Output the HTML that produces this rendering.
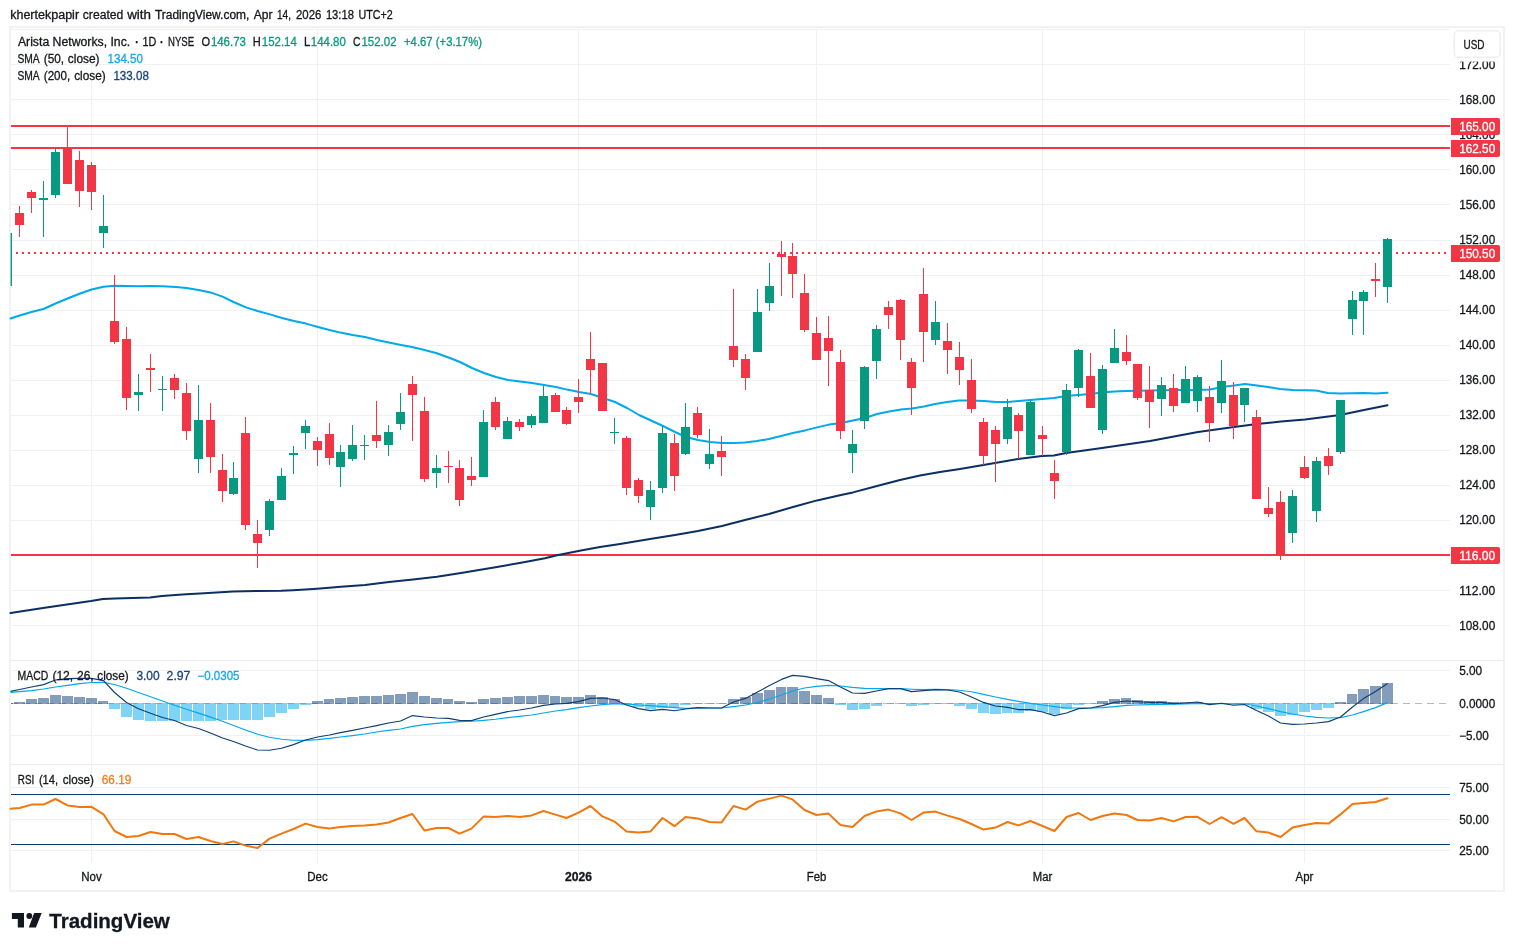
<!DOCTYPE html>
<html lang="en"><head><meta charset="utf-8"><title>Arista Networks, Inc. chart</title>
<style>html,body{margin:0;padding:0;background:#fff;overflow:hidden}svg{display:block}text{stroke-width:.3px}</style></head>
<body>
<svg width="1514" height="951" viewBox="0 0 1514 951" font-family='"Liberation Sans", "Trebuchet MS", Arial, sans-serif' font-size="12" fill="#15171c">
<rect x="0" y="0" width="1514" height="951" fill="#ffffff"/>
<rect x="10" y="27" width="1494" height="864" fill="none" stroke="#f2f2f2" stroke-width="2"/>
<g fill="#f1f1f1" shape-rendering="crispEdges">
<rect x="11" y="29" width="1439" height="1"/>
<rect x="11" y="64" width="1439" height="1"/>
<rect x="11" y="99" width="1439" height="1"/>
<rect x="11" y="134" width="1439" height="1"/>
<rect x="11" y="169" width="1439" height="1"/>
<rect x="11" y="204" width="1439" height="1"/>
<rect x="11" y="240" width="1439" height="1"/>
<rect x="11" y="275" width="1439" height="1"/>
<rect x="11" y="310" width="1439" height="1"/>
<rect x="11" y="345" width="1439" height="1"/>
<rect x="11" y="380" width="1439" height="1"/>
<rect x="11" y="415" width="1439" height="1"/>
<rect x="11" y="450" width="1439" height="1"/>
<rect x="11" y="485" width="1439" height="1"/>
<rect x="11" y="520" width="1439" height="1"/>
<rect x="11" y="555" width="1439" height="1"/>
<rect x="11" y="590" width="1439" height="1"/>
<rect x="11" y="625" width="1439" height="1"/>
<rect x="11" y="670" width="1439" height="1"/>
<rect x="11" y="735" width="1439" height="1"/>
<rect x="11" y="787" width="1439" height="1"/>
<rect x="11" y="819" width="1439" height="1"/>
<rect x="11" y="850" width="1439" height="1"/>
<rect x="11" y="660" width="1492" height="1" fill="#ececec"/>
<rect x="11" y="764" width="1492" height="1" fill="#ececec"/>
<rect x="91" y="30" width="1" height="833"/>
<rect x="317" y="30" width="1" height="833"/>
<rect x="578" y="30" width="1" height="833"/>
<rect x="816" y="30" width="1" height="833"/>
<rect x="1042" y="30" width="1" height="833"/>
<rect x="1304" y="30" width="1" height="833"/>
</g>
<g fill="#f23645" shape-rendering="crispEdges">
<rect x="11" y="125" width="1439" height="2"/>
<rect x="11" y="147" width="1439" height="2"/>
<rect x="11" y="554" width="1439" height="2"/>
</g>
<line x1="16" y1="253" x2="1447" y2="253" stroke="#f23645" stroke-width="2" stroke-dasharray="2 4" shape-rendering="crispEdges"/>
<path d="M10.5 613.0 L43.0 608.0 L67.0 604.4 L91.0 601.0 L103.0 599.0 L115.0 598.4 L150.0 597.6 L162.0 596.0 L186.0 594.2 L200.0 593.4 L233.0 591.4 L257.0 591.0 L281.0 590.8 L293.0 590.2 L317.0 588.7 L341.0 586.8 L365.0 585.0 L389.0 582.0 L413.0 579.4 L437.0 576.8 L461.0 573.0 L473.0 571.0 L497.0 567.0 L521.0 562.8 L545.0 558.3 L557.0 555.3 L581.0 550.6 L600.0 547.0 L620.0 544.0 L650.0 539.0 L675.0 535.0 L698.0 531.0 L722.0 526.0 L745.0 520.0 L769.0 514.0 L793.0 507.0 L817.0 500.4 L841.0 495.0 L853.0 492.4 L877.0 486.0 L900.0 480.0 L920.0 475.6 L940.0 472.0 L960.0 469.0 L995.0 463.0 L1018.0 459.0 L1042.0 456.0 L1054.0 455.4 L1066.0 453.0 L1102.0 448.0 L1150.0 441.0 L1198.0 432.0 L1234.0 427.0 L1257.0 424.0 L1281.0 421.5 L1305.0 419.4 L1340.0 415.0 L1364.0 410.0 L1387.5 405.2" fill="none" stroke="#0b2f63" stroke-width="2" stroke-linejoin="round" stroke-linecap="round"/>
<path d="M10.5 318.5 L19.5 315.5 L31.5 312.0 L43.5 309.0 L55.5 303.5 L67.5 298.5 L79.5 293.8 L91.5 289.5 L103.5 286.8 L114.5 285.8 L126.5 286.0 L138.5 286.3 L150.5 286.0 L162.5 286.3 L176.0 287.0 L186.5 288.0 L198.5 290.0 L210.5 292.4 L222.5 296.6 L233.5 302.0 L246.0 307.4 L257.5 311.0 L270.0 314.4 L282.0 318.0 L294.0 321.0 L306.0 323.6 L318.0 327.0 L329.5 330.0 L340.5 332.6 L352.5 335.0 L365.0 337.0 L377.0 340.0 L390.0 342.8 L401.0 345.0 L412.0 347.0 L424.5 350.0 L436.0 353.0 L448.5 357.5 L460.0 362.0 L472.0 368.0 L484.0 373.0 L496.0 377.0 L508.0 380.0 L520.0 381.4 L532.0 383.0 L544.0 385.0 L556.0 387.0 L567.0 389.6 L579.0 392.0 L591.0 394.0 L603.0 398.0 L615.0 402.0 L627.0 408.0 L639.0 415.0 L651.0 420.5 L663.0 426.0 L675.0 432.0 L686.0 437.0 L698.0 440.0 L710.0 442.0 L722.0 443.0 L734.0 443.0 L745.0 442.4 L757.0 441.0 L769.0 439.0 L781.0 436.0 L793.0 433.0 L805.0 430.4 L817.0 427.4 L829.0 424.6 L841.0 423.0 L853.0 420.5 L865.0 418.0 L877.0 414.0 L889.0 411.4 L901.0 409.6 L912.0 408.4 L924.0 406.5 L935.0 404.0 L947.0 402.0 L959.0 400.6 L971.0 400.4 L984.0 401.0 L996.0 402.0 L1008.0 402.0 L1019.0 401.0 L1030.0 400.0 L1042.0 399.0 L1054.0 398.0 L1066.0 396.0 L1078.0 395.0 L1090.0 394.0 L1102.0 392.6 L1114.0 391.6 L1126.0 391.0 L1138.0 390.8 L1150.0 390.6 L1162.0 390.3 L1174.0 390.0 L1186.0 390.0 L1198.0 390.0 L1210.0 389.6 L1222.0 387.0 L1234.0 385.6 L1245.0 384.0 L1257.0 385.6 L1268.0 387.0 L1280.0 389.0 L1293.0 390.0 L1305.0 390.3 L1316.0 390.6 L1328.0 393.0 L1340.0 393.4 L1352.0 393.2 L1364.0 393.0 L1376.0 393.6 L1387.5 392.8" fill="none" stroke="#00a8ec" stroke-width="2" stroke-linejoin="round" stroke-linecap="round"/>
<g shape-rendering="crispEdges">
<rect x="10.6" y="233" width="1.4" height="53" fill="#089981" shape-rendering="auto"/>
<rect x="19" y="206.4" width="1" height="30.6" fill="#f23645"/>
<rect x="15" y="213.2" width="9" height="11.8" fill="#f23645"/>
<rect x="31" y="190.0" width="1" height="23.0" fill="#f23645"/>
<rect x="27" y="192.0" width="9" height="6.0" fill="#f23645"/>
<rect x="43" y="181.0" width="1" height="56.0" fill="#089981"/>
<rect x="39" y="198.0" width="9" height="2.0" fill="#089981"/>
<rect x="55" y="147.6" width="1" height="50.4" fill="#089981"/>
<rect x="51" y="152.0" width="9" height="43.0" fill="#089981"/>
<rect x="67" y="127.0" width="1" height="57.0" fill="#f23645"/>
<rect x="63" y="148.0" width="9" height="36.0" fill="#f23645"/>
<rect x="79" y="151.0" width="1" height="56.0" fill="#f23645"/>
<rect x="75" y="160.0" width="9" height="31.0" fill="#f23645"/>
<rect x="91" y="162.0" width="1" height="48.0" fill="#f23645"/>
<rect x="87" y="165.0" width="9" height="27.0" fill="#f23645"/>
<rect x="103" y="195.0" width="1" height="53.0" fill="#089981"/>
<rect x="99" y="226.0" width="9" height="7.0" fill="#089981"/>
<rect x="114" y="275.0" width="1" height="69.0" fill="#f23645"/>
<rect x="110" y="321.0" width="9" height="21.0" fill="#f23645"/>
<rect x="126" y="327.0" width="1" height="83.0" fill="#f23645"/>
<rect x="122" y="339.0" width="9" height="59.0" fill="#f23645"/>
<rect x="138" y="374.0" width="1" height="37.0" fill="#089981"/>
<rect x="134" y="392.0" width="9" height="3.0" fill="#089981"/>
<rect x="150" y="354.0" width="1" height="38.0" fill="#f23645"/>
<rect x="146" y="367.5" width="9" height="2.5" fill="#f23645"/>
<rect x="162" y="376.0" width="1" height="35.0" fill="#089981"/>
<rect x="158" y="389.0" width="9" height="1.0" fill="#089981"/>
<rect x="174" y="374.0" width="1" height="25.0" fill="#f23645"/>
<rect x="170" y="378.0" width="9" height="12.0" fill="#f23645"/>
<rect x="186" y="383.0" width="1" height="57.0" fill="#f23645"/>
<rect x="182" y="393.0" width="9" height="38.0" fill="#f23645"/>
<rect x="198" y="385.0" width="1" height="88.0" fill="#089981"/>
<rect x="194" y="420.0" width="9" height="39.0" fill="#089981"/>
<rect x="210" y="403.0" width="1" height="70.0" fill="#f23645"/>
<rect x="206" y="420.0" width="9" height="37.0" fill="#f23645"/>
<rect x="222" y="454.0" width="1" height="48.0" fill="#f23645"/>
<rect x="218" y="470.0" width="9" height="21.0" fill="#f23645"/>
<rect x="233" y="462.0" width="1" height="33.0" fill="#089981"/>
<rect x="229" y="478.0" width="9" height="16.0" fill="#089981"/>
<rect x="245" y="417.0" width="1" height="113.0" fill="#f23645"/>
<rect x="241" y="433.0" width="9" height="92.0" fill="#f23645"/>
<rect x="257" y="520.0" width="1" height="48.0" fill="#f23645"/>
<rect x="253" y="534.0" width="9" height="9.0" fill="#f23645"/>
<rect x="269" y="499.0" width="1" height="37.0" fill="#089981"/>
<rect x="265" y="501.0" width="9" height="29.0" fill="#089981"/>
<rect x="281" y="468.0" width="1" height="32.0" fill="#089981"/>
<rect x="277" y="476.0" width="9" height="24.0" fill="#089981"/>
<rect x="293" y="446.0" width="1" height="28.0" fill="#089981"/>
<rect x="289" y="453.0" width="9" height="2.0" fill="#089981"/>
<rect x="305" y="420.0" width="1" height="29.0" fill="#089981"/>
<rect x="301" y="426.0" width="9" height="7.0" fill="#089981"/>
<rect x="317" y="437.0" width="1" height="29.0" fill="#f23645"/>
<rect x="313" y="441.0" width="9" height="9.0" fill="#f23645"/>
<rect x="329" y="423.0" width="1" height="42.0" fill="#f23645"/>
<rect x="325" y="434.0" width="9" height="24.0" fill="#f23645"/>
<rect x="340" y="445.0" width="1" height="42.0" fill="#089981"/>
<rect x="336" y="452.0" width="9" height="15.0" fill="#089981"/>
<rect x="352" y="425.0" width="1" height="36.0" fill="#089981"/>
<rect x="348" y="445.0" width="9" height="14.0" fill="#089981"/>
<rect x="364" y="435.0" width="1" height="25.0" fill="#089981"/>
<rect x="360" y="445.0" width="9" height="1.0" fill="#089981"/>
<rect x="376" y="401.0" width="1" height="47.0" fill="#f23645"/>
<rect x="372" y="435.0" width="9" height="6.0" fill="#f23645"/>
<rect x="388" y="425.0" width="1" height="31.0" fill="#089981"/>
<rect x="384" y="432.0" width="9" height="13.0" fill="#089981"/>
<rect x="400" y="393.0" width="1" height="37.0" fill="#089981"/>
<rect x="396" y="412.0" width="9" height="12.0" fill="#089981"/>
<rect x="412" y="376.0" width="1" height="65.0" fill="#f23645"/>
<rect x="408" y="384.0" width="9" height="11.0" fill="#f23645"/>
<rect x="424" y="397.0" width="1" height="85.0" fill="#f23645"/>
<rect x="420" y="411.0" width="9" height="68.0" fill="#f23645"/>
<rect x="436" y="455.0" width="1" height="33.0" fill="#089981"/>
<rect x="432" y="468.0" width="9" height="5.0" fill="#089981"/>
<rect x="448" y="451.0" width="1" height="32.0" fill="#f23645"/>
<rect x="444" y="466.0" width="9" height="1.0" fill="#f23645"/>
<rect x="459" y="460.0" width="1" height="46.0" fill="#f23645"/>
<rect x="455" y="468.0" width="9" height="32.0" fill="#f23645"/>
<rect x="471" y="457.0" width="1" height="29.0" fill="#f23645"/>
<rect x="467" y="476.0" width="9" height="4.0" fill="#f23645"/>
<rect x="483" y="410.0" width="1" height="67.0" fill="#089981"/>
<rect x="479" y="422.0" width="9" height="55.0" fill="#089981"/>
<rect x="495" y="397.0" width="1" height="33.0" fill="#f23645"/>
<rect x="491" y="402.0" width="9" height="25.0" fill="#f23645"/>
<rect x="507" y="417.0" width="1" height="22.0" fill="#089981"/>
<rect x="503" y="421.0" width="9" height="18.0" fill="#089981"/>
<rect x="519" y="419.0" width="1" height="12.0" fill="#f23645"/>
<rect x="515" y="422.0" width="9" height="5.0" fill="#f23645"/>
<rect x="531" y="414.0" width="1" height="14.0" fill="#089981"/>
<rect x="527" y="416.0" width="9" height="9.0" fill="#089981"/>
<rect x="543" y="386.0" width="1" height="37.0" fill="#089981"/>
<rect x="539" y="396.0" width="9" height="27.0" fill="#089981"/>
<rect x="555" y="393.0" width="1" height="19.0" fill="#f23645"/>
<rect x="551" y="395.0" width="9" height="17.0" fill="#f23645"/>
<rect x="566" y="407.0" width="1" height="18.0" fill="#f23645"/>
<rect x="562" y="410.0" width="9" height="14.0" fill="#f23645"/>
<rect x="578" y="379.0" width="1" height="34.0" fill="#f23645"/>
<rect x="574" y="397.0" width="9" height="5.0" fill="#f23645"/>
<rect x="590" y="332.0" width="1" height="61.0" fill="#f23645"/>
<rect x="586" y="359.0" width="9" height="11.0" fill="#f23645"/>
<rect x="602" y="363.0" width="1" height="48.0" fill="#f23645"/>
<rect x="598" y="363.0" width="9" height="48.0" fill="#f23645"/>
<rect x="614" y="418.0" width="1" height="26.0" fill="#089981"/>
<rect x="610" y="432.0" width="9" height="1.0" fill="#089981"/>
<rect x="626" y="436.0" width="1" height="59.0" fill="#f23645"/>
<rect x="622" y="438.0" width="9" height="50.0" fill="#f23645"/>
<rect x="638" y="478.0" width="1" height="25.0" fill="#f23645"/>
<rect x="634" y="480.0" width="9" height="16.0" fill="#f23645"/>
<rect x="650" y="481.0" width="1" height="39.0" fill="#089981"/>
<rect x="646" y="490.0" width="9" height="17.0" fill="#089981"/>
<rect x="662" y="426.0" width="1" height="67.0" fill="#089981"/>
<rect x="658" y="433.0" width="9" height="55.0" fill="#089981"/>
<rect x="674" y="434.0" width="1" height="57.0" fill="#f23645"/>
<rect x="670" y="443.0" width="9" height="33.0" fill="#f23645"/>
<rect x="685" y="403.0" width="1" height="52.0" fill="#089981"/>
<rect x="681" y="427.0" width="9" height="27.0" fill="#089981"/>
<rect x="697" y="407.0" width="1" height="31.0" fill="#f23645"/>
<rect x="693" y="413.0" width="9" height="22.0" fill="#f23645"/>
<rect x="709" y="429.0" width="1" height="40.0" fill="#089981"/>
<rect x="705" y="454.0" width="9" height="10.0" fill="#089981"/>
<rect x="721" y="436.0" width="1" height="40.0" fill="#f23645"/>
<rect x="717" y="451.0" width="9" height="6.0" fill="#f23645"/>
<rect x="733" y="289.0" width="1" height="78.0" fill="#f23645"/>
<rect x="729" y="346.0" width="9" height="14.0" fill="#f23645"/>
<rect x="745" y="354.0" width="1" height="36.0" fill="#f23645"/>
<rect x="741" y="359.0" width="9" height="19.0" fill="#f23645"/>
<rect x="757" y="289.0" width="1" height="63.0" fill="#089981"/>
<rect x="753" y="312.0" width="9" height="40.0" fill="#089981"/>
<rect x="769" y="263.0" width="1" height="48.0" fill="#089981"/>
<rect x="765" y="286.0" width="9" height="17.0" fill="#089981"/>
<rect x="781" y="241.0" width="1" height="55.0" fill="#f23645"/>
<rect x="777" y="254.0" width="9" height="2.5" fill="#f23645"/>
<rect x="792" y="243.0" width="1" height="55.0" fill="#f23645"/>
<rect x="788" y="256.0" width="9" height="18.0" fill="#f23645"/>
<rect x="804" y="274.0" width="1" height="58.0" fill="#f23645"/>
<rect x="800" y="293.0" width="9" height="37.0" fill="#f23645"/>
<rect x="816" y="317.0" width="1" height="43.0" fill="#f23645"/>
<rect x="812" y="333.0" width="9" height="27.0" fill="#f23645"/>
<rect x="828" y="316.0" width="1" height="70.0" fill="#f23645"/>
<rect x="824" y="338.0" width="9" height="13.0" fill="#f23645"/>
<rect x="840" y="350.0" width="1" height="89.0" fill="#f23645"/>
<rect x="836" y="362.0" width="9" height="69.0" fill="#f23645"/>
<rect x="852" y="430.0" width="1" height="43.0" fill="#089981"/>
<rect x="848" y="444.0" width="9" height="9.0" fill="#089981"/>
<rect x="864" y="366.0" width="1" height="63.0" fill="#089981"/>
<rect x="860" y="367.0" width="9" height="54.0" fill="#089981"/>
<rect x="876" y="325.0" width="1" height="54.0" fill="#089981"/>
<rect x="872" y="329.0" width="9" height="32.0" fill="#089981"/>
<rect x="888" y="301.0" width="1" height="28.0" fill="#f23645"/>
<rect x="884" y="307.0" width="9" height="8.0" fill="#f23645"/>
<rect x="900" y="299.0" width="1" height="61.0" fill="#f23645"/>
<rect x="896" y="300.0" width="9" height="40.0" fill="#f23645"/>
<rect x="911" y="358.0" width="1" height="57.0" fill="#f23645"/>
<rect x="907" y="362.0" width="9" height="26.0" fill="#f23645"/>
<rect x="923" y="268.0" width="1" height="94.0" fill="#f23645"/>
<rect x="919" y="294.0" width="9" height="38.0" fill="#f23645"/>
<rect x="935" y="301.0" width="1" height="44.0" fill="#089981"/>
<rect x="931" y="322.0" width="9" height="18.0" fill="#089981"/>
<rect x="947" y="323.0" width="1" height="51.0" fill="#f23645"/>
<rect x="943" y="341.0" width="9" height="9.0" fill="#f23645"/>
<rect x="959" y="342.0" width="1" height="43.0" fill="#f23645"/>
<rect x="955" y="357.0" width="9" height="13.0" fill="#f23645"/>
<rect x="971" y="359.0" width="1" height="54.0" fill="#f23645"/>
<rect x="967" y="380.0" width="9" height="29.0" fill="#f23645"/>
<rect x="983" y="418.0" width="1" height="47.0" fill="#f23645"/>
<rect x="979" y="422.0" width="9" height="34.0" fill="#f23645"/>
<rect x="995" y="426.0" width="1" height="56.0" fill="#f23645"/>
<rect x="991" y="430.0" width="9" height="14.0" fill="#f23645"/>
<rect x="1007" y="399.0" width="1" height="45.0" fill="#089981"/>
<rect x="1003" y="407.0" width="9" height="32.0" fill="#089981"/>
<rect x="1018" y="413.0" width="1" height="46.0" fill="#f23645"/>
<rect x="1014" y="415.0" width="9" height="16.0" fill="#f23645"/>
<rect x="1030" y="401.0" width="1" height="54.0" fill="#089981"/>
<rect x="1026" y="402.0" width="9" height="53.0" fill="#089981"/>
<rect x="1042" y="426.0" width="1" height="30.0" fill="#f23645"/>
<rect x="1038" y="435.0" width="9" height="4.0" fill="#f23645"/>
<rect x="1054" y="460.0" width="1" height="39.0" fill="#f23645"/>
<rect x="1050" y="473.0" width="9" height="8.0" fill="#f23645"/>
<rect x="1066" y="384.0" width="1" height="71.0" fill="#089981"/>
<rect x="1062" y="390.0" width="9" height="62.0" fill="#089981"/>
<rect x="1078" y="349.0" width="1" height="48.0" fill="#089981"/>
<rect x="1074" y="350.0" width="9" height="38.0" fill="#089981"/>
<rect x="1090" y="353.0" width="1" height="55.0" fill="#f23645"/>
<rect x="1086" y="376.0" width="9" height="32.0" fill="#f23645"/>
<rect x="1102" y="365.0" width="1" height="69.0" fill="#089981"/>
<rect x="1098" y="369.0" width="9" height="61.0" fill="#089981"/>
<rect x="1114" y="329.0" width="1" height="34.0" fill="#089981"/>
<rect x="1110" y="348.0" width="9" height="15.0" fill="#089981"/>
<rect x="1126" y="335.0" width="1" height="30.0" fill="#f23645"/>
<rect x="1122" y="352.0" width="9" height="9.0" fill="#f23645"/>
<rect x="1137" y="364.0" width="1" height="36.0" fill="#f23645"/>
<rect x="1133" y="364.0" width="9" height="34.0" fill="#f23645"/>
<rect x="1149" y="366.0" width="1" height="62.0" fill="#f23645"/>
<rect x="1145" y="390.0" width="9" height="12.0" fill="#f23645"/>
<rect x="1161" y="377.0" width="1" height="39.0" fill="#089981"/>
<rect x="1157" y="385.0" width="9" height="14.0" fill="#089981"/>
<rect x="1173" y="374.0" width="1" height="38.0" fill="#f23645"/>
<rect x="1169" y="388.0" width="9" height="18.0" fill="#f23645"/>
<rect x="1185" y="366.0" width="1" height="37.0" fill="#089981"/>
<rect x="1181" y="379.0" width="9" height="24.0" fill="#089981"/>
<rect x="1197" y="375.0" width="1" height="37.0" fill="#089981"/>
<rect x="1193" y="377.0" width="9" height="24.0" fill="#089981"/>
<rect x="1209" y="386.0" width="1" height="56.0" fill="#f23645"/>
<rect x="1205" y="397.0" width="9" height="26.0" fill="#f23645"/>
<rect x="1221" y="360.0" width="1" height="53.0" fill="#089981"/>
<rect x="1217" y="381.0" width="9" height="22.0" fill="#089981"/>
<rect x="1233" y="382.0" width="1" height="57.0" fill="#f23645"/>
<rect x="1229" y="395.0" width="9" height="31.0" fill="#f23645"/>
<rect x="1244" y="388.0" width="1" height="34.0" fill="#089981"/>
<rect x="1240" y="388.0" width="9" height="17.0" fill="#089981"/>
<rect x="1256" y="410.0" width="1" height="89.0" fill="#f23645"/>
<rect x="1252" y="417.0" width="9" height="82.0" fill="#f23645"/>
<rect x="1268" y="487.0" width="1" height="30.0" fill="#f23645"/>
<rect x="1264" y="508.0" width="9" height="6.0" fill="#f23645"/>
<rect x="1280" y="491.0" width="1" height="69.0" fill="#f23645"/>
<rect x="1276" y="502.0" width="9" height="53.0" fill="#f23645"/>
<rect x="1292" y="490.0" width="1" height="53.0" fill="#089981"/>
<rect x="1288" y="496.0" width="9" height="37.0" fill="#089981"/>
<rect x="1304" y="456.0" width="1" height="23.0" fill="#f23645"/>
<rect x="1300" y="467.0" width="9" height="11.0" fill="#f23645"/>
<rect x="1316" y="457.0" width="1" height="65.0" fill="#089981"/>
<rect x="1312" y="461.0" width="9" height="50.0" fill="#089981"/>
<rect x="1328" y="448.0" width="1" height="27.0" fill="#f23645"/>
<rect x="1324" y="456.0" width="9" height="10.0" fill="#f23645"/>
<rect x="1340" y="400.0" width="1" height="54.0" fill="#089981"/>
<rect x="1336" y="400.0" width="9" height="52.0" fill="#089981"/>
<rect x="1352" y="291.0" width="1" height="44.0" fill="#089981"/>
<rect x="1348" y="300.0" width="9" height="19.0" fill="#089981"/>
<rect x="1363" y="290.0" width="1" height="45.0" fill="#089981"/>
<rect x="1359" y="292.0" width="9" height="9.0" fill="#089981"/>
<rect x="1375" y="263.0" width="1" height="34.0" fill="#f23645"/>
<rect x="1371" y="279.0" width="9" height="1.5" fill="#f23645"/>
<rect x="1387" y="238.0" width="1" height="65.0" fill="#089981"/>
<rect x="1383" y="239.0" width="9" height="48.0" fill="#089981"/>
</g>
<line x1="11" y1="703.5" x2="1450" y2="703.5" stroke="#a8a8a8" stroke-width="1" stroke-dasharray="7 5" opacity="0.8"/>
<g shape-rendering="crispEdges">
<rect x="11" y="703.0" width="2" height="1.0" fill="rgba(10,60,120,0.5)"/>
<rect x="14" y="702.0" width="11" height="2.0" fill="rgba(10,60,120,0.5)"/>
<rect x="26" y="699.0" width="11" height="5.0" fill="rgba(10,60,120,0.5)"/>
<rect x="38" y="698.0" width="11" height="6.0" fill="rgba(10,60,120,0.5)"/>
<rect x="50" y="695.0" width="11" height="9.0" fill="rgba(10,60,120,0.5)"/>
<rect x="62" y="696.0" width="11" height="8.0" fill="rgba(10,60,120,0.5)"/>
<rect x="74" y="697.0" width="11" height="7.0" fill="rgba(10,60,120,0.5)"/>
<rect x="86" y="698.0" width="11" height="6.0" fill="rgba(10,60,120,0.5)"/>
<rect x="98" y="701.0" width="10" height="3.0" fill="rgba(10,60,120,0.5)"/>
<rect x="109" y="703.0" width="11" height="6.0" fill="rgba(0,168,240,0.5)"/>
<rect x="121" y="703.0" width="11" height="14.0" fill="rgba(0,168,240,0.5)"/>
<rect x="133" y="703.0" width="11" height="17.0" fill="rgba(0,168,240,0.5)"/>
<rect x="145" y="703.0" width="11" height="18.0" fill="rgba(0,168,240,0.5)"/>
<rect x="157" y="703.0" width="11" height="18.0" fill="rgba(0,168,240,0.5)"/>
<rect x="169" y="703.0" width="11" height="18.0" fill="rgba(0,168,240,0.5)"/>
<rect x="181" y="703.0" width="11" height="18.0" fill="rgba(0,168,240,0.5)"/>
<rect x="193" y="703.0" width="11" height="17.6" fill="rgba(0,168,240,0.5)"/>
<rect x="205" y="703.0" width="11" height="17.6" fill="rgba(0,168,240,0.5)"/>
<rect x="217" y="703.0" width="10" height="17.0" fill="rgba(0,168,240,0.5)"/>
<rect x="228" y="703.0" width="11" height="17.0" fill="rgba(0,168,240,0.5)"/>
<rect x="240" y="703.0" width="11" height="17.0" fill="rgba(0,168,240,0.5)"/>
<rect x="252" y="703.0" width="11" height="17.0" fill="rgba(0,168,240,0.5)"/>
<rect x="264" y="703.0" width="11" height="14.0" fill="rgba(0,168,240,0.5)"/>
<rect x="276" y="703.0" width="11" height="10.0" fill="rgba(0,168,240,0.5)"/>
<rect x="288" y="703.0" width="11" height="6.0" fill="rgba(0,168,240,0.5)"/>
<rect x="300" y="703.0" width="11" height="1.6" fill="rgba(0,168,240,0.5)"/>
<rect x="312" y="701.0" width="11" height="3.0" fill="rgba(10,60,120,0.5)"/>
<rect x="324" y="699.0" width="10" height="5.0" fill="rgba(10,60,120,0.5)"/>
<rect x="335" y="698.0" width="11" height="6.0" fill="rgba(10,60,120,0.5)"/>
<rect x="347" y="697.0" width="11" height="7.0" fill="rgba(10,60,120,0.5)"/>
<rect x="359" y="696.0" width="11" height="8.0" fill="rgba(10,60,120,0.5)"/>
<rect x="371" y="696.0" width="11" height="8.0" fill="rgba(10,60,120,0.5)"/>
<rect x="383" y="695.0" width="11" height="9.0" fill="rgba(10,60,120,0.5)"/>
<rect x="395" y="694.0" width="11" height="10.0" fill="rgba(10,60,120,0.5)"/>
<rect x="407" y="692.0" width="11" height="12.0" fill="rgba(10,60,120,0.5)"/>
<rect x="419" y="696.0" width="11" height="8.0" fill="rgba(10,60,120,0.5)"/>
<rect x="431" y="698.0" width="11" height="6.0" fill="rgba(10,60,120,0.5)"/>
<rect x="443" y="699.0" width="10" height="5.0" fill="rgba(10,60,120,0.5)"/>
<rect x="454" y="701.0" width="11" height="3.0" fill="rgba(10,60,120,0.5)"/>
<rect x="466" y="702.0" width="11" height="2.0" fill="rgba(10,60,120,0.5)"/>
<rect x="478" y="699.0" width="11" height="5.0" fill="rgba(10,60,120,0.5)"/>
<rect x="490" y="698.0" width="11" height="6.0" fill="rgba(10,60,120,0.5)"/>
<rect x="502" y="697.0" width="11" height="7.0" fill="rgba(10,60,120,0.5)"/>
<rect x="514" y="696.0" width="11" height="8.0" fill="rgba(10,60,120,0.5)"/>
<rect x="526" y="696.0" width="11" height="8.0" fill="rgba(10,60,120,0.5)"/>
<rect x="538" y="695.0" width="11" height="9.0" fill="rgba(10,60,120,0.5)"/>
<rect x="550" y="696.0" width="10" height="8.0" fill="rgba(10,60,120,0.5)"/>
<rect x="561" y="697.0" width="11" height="7.0" fill="rgba(10,60,120,0.5)"/>
<rect x="573" y="697.0" width="11" height="7.0" fill="rgba(10,60,120,0.5)"/>
<rect x="585" y="695.0" width="11" height="9.0" fill="rgba(10,60,120,0.5)"/>
<rect x="597" y="697.4" width="11" height="6.6" fill="rgba(10,60,120,0.5)"/>
<rect x="609" y="699.4" width="11" height="4.6" fill="rgba(10,60,120,0.5)"/>
<rect x="621" y="703.0" width="11" height="2.0" fill="rgba(0,168,240,0.5)"/>
<rect x="633" y="703.0" width="11" height="4.0" fill="rgba(0,168,240,0.5)"/>
<rect x="645" y="703.0" width="11" height="5.6" fill="rgba(0,168,240,0.5)"/>
<rect x="657" y="703.0" width="11" height="4.6" fill="rgba(0,168,240,0.5)"/>
<rect x="669" y="703.0" width="10" height="4.6" fill="rgba(0,168,240,0.5)"/>
<rect x="680" y="703.0" width="11" height="2.0" fill="rgba(0,168,240,0.5)"/>
<rect x="692" y="703.0" width="11" height="1.3" fill="rgba(0,168,240,0.5)"/>
<rect x="704" y="703.0" width="11" height="1.0" fill="rgba(0,168,240,0.5)"/>
<rect x="716" y="703.0" width="11" height="1.0" fill="rgba(0,168,240,0.5)"/>
<rect x="728" y="699.0" width="11" height="5.0" fill="rgba(10,60,120,0.5)"/>
<rect x="740" y="697.0" width="11" height="7.0" fill="rgba(10,60,120,0.5)"/>
<rect x="752" y="693.0" width="11" height="11.0" fill="rgba(10,60,120,0.5)"/>
<rect x="764" y="690.0" width="11" height="14.0" fill="rgba(10,60,120,0.5)"/>
<rect x="776" y="687.0" width="10" height="17.0" fill="rgba(10,60,120,0.5)"/>
<rect x="787" y="687.0" width="11" height="17.0" fill="rgba(10,60,120,0.5)"/>
<rect x="799" y="691.0" width="11" height="13.0" fill="rgba(10,60,120,0.5)"/>
<rect x="811" y="695.0" width="11" height="9.0" fill="rgba(10,60,120,0.5)"/>
<rect x="823" y="698.0" width="11" height="6.0" fill="rgba(10,60,120,0.5)"/>
<rect x="835" y="703.0" width="11" height="2.0" fill="rgba(0,168,240,0.5)"/>
<rect x="847" y="703.0" width="11" height="7.0" fill="rgba(0,168,240,0.5)"/>
<rect x="859" y="703.0" width="11" height="6.0" fill="rgba(0,168,240,0.5)"/>
<rect x="871" y="703.0" width="11" height="3.0" fill="rgba(0,168,240,0.5)"/>
<rect x="883" y="703.0" width="11" height="1.2" fill="rgba(0,168,240,0.5)"/>
<rect x="895" y="703.0" width="10" height="1.2" fill="rgba(0,168,240,0.5)"/>
<rect x="906" y="703.0" width="11" height="3.0" fill="rgba(0,168,240,0.5)"/>
<rect x="918" y="703.0" width="11" height="2.0" fill="rgba(0,168,240,0.5)"/>
<rect x="930" y="703.0" width="11" height="1.2" fill="rgba(0,168,240,0.5)"/>
<rect x="942" y="703.0" width="11" height="1.4" fill="rgba(0,168,240,0.5)"/>
<rect x="954" y="703.0" width="11" height="3.0" fill="rgba(0,168,240,0.5)"/>
<rect x="966" y="703.0" width="11" height="6.0" fill="rgba(0,168,240,0.5)"/>
<rect x="978" y="703.0" width="11" height="10.0" fill="rgba(0,168,240,0.5)"/>
<rect x="990" y="703.0" width="11" height="11.0" fill="rgba(0,168,240,0.5)"/>
<rect x="1002" y="703.0" width="10" height="10.0" fill="rgba(0,168,240,0.5)"/>
<rect x="1013" y="703.0" width="11" height="10.0" fill="rgba(0,168,240,0.5)"/>
<rect x="1025" y="703.0" width="11" height="7.6" fill="rgba(0,168,240,0.5)"/>
<rect x="1037" y="703.0" width="11" height="8.6" fill="rgba(0,168,240,0.5)"/>
<rect x="1049" y="703.0" width="11" height="10.6" fill="rgba(0,168,240,0.5)"/>
<rect x="1061" y="703.0" width="11" height="5.6" fill="rgba(0,168,240,0.5)"/>
<rect x="1073" y="703.0" width="11" height="1.5" fill="rgba(0,168,240,0.5)"/>
<rect x="1085" y="703.0" width="11" height="1.2" fill="rgba(0,168,240,0.5)"/>
<rect x="1097" y="701.0" width="11" height="3.0" fill="rgba(10,60,120,0.5)"/>
<rect x="1109" y="699.0" width="11" height="5.0" fill="rgba(10,60,120,0.5)"/>
<rect x="1121" y="698.0" width="10" height="6.0" fill="rgba(10,60,120,0.5)"/>
<rect x="1132" y="700.0" width="11" height="4.0" fill="rgba(10,60,120,0.5)"/>
<rect x="1144" y="701.0" width="11" height="3.0" fill="rgba(10,60,120,0.5)"/>
<rect x="1156" y="701.0" width="11" height="3.0" fill="rgba(10,60,120,0.5)"/>
<rect x="1168" y="702.0" width="11" height="2.0" fill="rgba(10,60,120,0.5)"/>
<rect x="1180" y="702.4" width="11" height="1.6" fill="rgba(10,60,120,0.5)"/>
<rect x="1192" y="702.4" width="11" height="1.6" fill="rgba(10,60,120,0.5)"/>
<rect x="1204" y="703.2" width="11" height="0.8" fill="rgba(10,60,120,0.5)"/>
<rect x="1216" y="703.0" width="11" height="1.0" fill="rgba(10,60,120,0.5)"/>
<rect x="1228" y="703.0" width="10" height="1.2" fill="rgba(0,168,240,0.5)"/>
<rect x="1239" y="703.0" width="11" height="0.8" fill="rgba(0,168,240,0.5)"/>
<rect x="1251" y="703.0" width="11" height="5.6" fill="rgba(0,168,240,0.5)"/>
<rect x="1263" y="703.0" width="11" height="8.6" fill="rgba(0,168,240,0.5)"/>
<rect x="1275" y="703.0" width="11" height="12.6" fill="rgba(0,168,240,0.5)"/>
<rect x="1287" y="703.0" width="11" height="11.6" fill="rgba(0,168,240,0.5)"/>
<rect x="1299" y="703.0" width="11" height="8.6" fill="rgba(0,168,240,0.5)"/>
<rect x="1311" y="703.0" width="11" height="6.6" fill="rgba(0,168,240,0.5)"/>
<rect x="1323" y="703.0" width="11" height="4.6" fill="rgba(0,168,240,0.5)"/>
<rect x="1335" y="702.0" width="11" height="2.0" fill="rgba(10,60,120,0.5)"/>
<rect x="1347" y="694.0" width="10" height="10.0" fill="rgba(10,60,120,0.5)"/>
<rect x="1358" y="689.0" width="11" height="15.0" fill="rgba(10,60,120,0.5)"/>
<rect x="1370" y="686.0" width="11" height="18.0" fill="rgba(10,60,120,0.5)"/>
<rect x="1382" y="683.0" width="11" height="21.0" fill="rgba(10,60,120,0.5)"/>
</g>
<path d="M10.5 692.4 L19.5 691.6 L31.5 690.6 L43.5 689.0 L55.5 687.0 L67.5 685.4 L79.5 683.6 L91.5 682.5 L103.5 682.4 L114.5 684.5 L126.5 688.3 L138.5 692.5 L150.5 696.7 L162.5 701.0 L174.5 705.2 L186.5 709.3 L198.5 713.1 L210.5 717.1 L222.5 721.3 L233.5 725.5 L245.5 730.0 L257.5 734.2 L269.5 737.3 L281.5 739.3 L293.5 740.3 L305.5 740.4 L317.5 739.6 L329.5 738.4 L340.5 737.0 L352.5 735.6 L364.5 734.0 L376.5 732.0 L388.5 730.4 L400.5 729.0 L412.5 726.4 L424.5 724.6 L436.5 723.4 L448.5 722.4 L459.5 721.6 L471.5 721.2 L483.5 720.4 L495.5 719.2 L507.5 717.6 L519.5 716.4 L531.5 715.0 L543.5 713.0 L555.5 711.0 L566.5 709.6 L578.5 707.6 L590.5 706.0 L602.5 704.6 L614.5 703.6 L626.5 704.0 L638.5 705.0 L650.5 705.6 L662.5 706.6 L674.5 707.6 L685.5 708.4 L697.5 708.0 L709.5 708.0 L721.5 708.0 L733.5 706.6 L745.5 705.0 L757.5 702.4 L769.5 699.0 L781.5 695.0 L792.5 691.0 L804.5 688.0 L816.5 686.4 L828.5 685.4 L840.5 686.0 L852.5 687.4 L864.5 688.4 L876.5 688.6 L888.5 688.6 L900.5 688.6 L911.5 689.2 L923.5 689.6 L935.5 689.4 L947.5 689.6 L959.5 690.2 L971.5 691.8 L983.5 694.4 L995.5 697.0 L1007.5 699.4 L1018.5 701.4 L1030.5 703.4 L1042.5 705.0 L1054.5 706.6 L1066.5 708.0 L1078.5 708.0 L1090.5 708.0 L1102.5 707.6 L1114.5 706.6 L1126.5 705.4 L1137.5 705.0 L1149.5 704.6 L1161.5 704.4 L1173.5 704.2 L1185.5 704.0 L1197.5 703.4 L1209.5 703.6 L1221.5 703.5 L1233.5 704.0 L1244.5 703.8 L1256.5 706.0 L1268.5 708.6 L1280.5 711.6 L1292.5 714.0 L1304.5 716.0 L1316.5 717.4 L1328.5 718.0 L1340.5 717.6 L1352.5 715.0 L1363.5 711.6 L1375.5 707.6 L1387.5 702.6" fill="none" stroke="#00a8f0" stroke-width="1.15" stroke-linejoin="round"/>
<path d="M10.5 691.4 L19.5 689.5 L31.5 687.0 L43.5 684.6 L55.5 680.0 L67.5 678.6 L79.5 678.4 L91.5 678.4 L103.5 680.6 L114.5 692.5 L126.5 702.5 L138.5 708.8 L150.5 713.3 L162.5 717.5 L174.5 720.5 L186.5 725.5 L198.5 728.5 L210.5 733.0 L222.5 738.0 L233.5 741.5 L245.5 746.0 L257.5 750.0 L269.5 750.2 L281.5 748.3 L293.5 744.6 L305.5 740.0 L317.5 737.0 L329.5 735.0 L340.5 732.6 L352.5 730.4 L364.5 728.0 L376.5 725.6 L388.5 723.0 L400.5 721.0 L412.5 715.6 L424.5 717.0 L436.5 718.0 L448.5 718.4 L459.5 720.4 L471.5 720.6 L483.5 717.0 L495.5 714.4 L507.5 711.6 L519.5 710.0 L531.5 708.0 L543.5 705.4 L555.5 704.0 L566.5 703.4 L578.5 701.6 L590.5 698.4 L602.5 698.0 L614.5 699.6 L626.5 705.0 L638.5 708.6 L650.5 710.6 L662.5 709.4 L674.5 710.8 L685.5 709.0 L697.5 707.6 L709.5 708.0 L721.5 708.0 L733.5 702.0 L745.5 698.4 L757.5 692.0 L769.5 685.6 L781.5 679.4 L792.5 675.4 L804.5 676.4 L816.5 678.6 L828.5 680.6 L840.5 687.0 L852.5 693.0 L864.5 693.4 L876.5 691.0 L888.5 688.6 L900.5 688.6 L911.5 691.6 L923.5 690.6 L935.5 689.6 L947.5 690.0 L959.5 692.0 L971.5 697.0 L983.5 702.4 L995.5 706.0 L1007.5 707.4 L1018.5 709.6 L1030.5 709.6 L1042.5 712.0 L1054.5 715.6 L1066.5 713.0 L1078.5 708.6 L1090.5 708.0 L1102.5 705.6 L1114.5 702.4 L1126.5 701.0 L1137.5 701.6 L1149.5 702.4 L1161.5 702.4 L1173.5 703.6 L1185.5 703.0 L1197.5 702.0 L1209.5 704.6 L1221.5 703.2 L1233.5 705.2 L1244.5 704.5 L1256.5 710.5 L1268.5 716.0 L1280.5 723.0 L1292.5 724.4 L1304.5 724.0 L1316.5 723.0 L1328.5 721.6 L1340.5 717.0 L1352.5 707.0 L1363.5 698.6 L1375.5 691.6 L1387.5 683.5" fill="none" stroke="#0f3e75" stroke-width="1.15" stroke-linejoin="round"/>
<g fill="#0b3a6f" shape-rendering="crispEdges"><rect x="11" y="794" width="1439" height="1"/><rect x="11" y="844" width="1439" height="1"/></g>
<path d="M10.5 808.8 L19.5 808.0 L31.5 804.6 L43.5 804.6 L55.5 799.0 L67.5 805.4 L79.5 807.0 L91.5 806.8 L103.5 814.3 L114.5 831.0 L126.5 837.0 L138.5 836.0 L150.5 832.0 L162.5 834.0 L174.5 834.0 L186.5 839.0 L198.5 837.0 L210.5 841.0 L222.5 844.0 L233.5 841.4 L245.5 845.6 L257.5 848.0 L269.5 838.6 L281.5 833.6 L293.5 829.0 L305.5 823.6 L317.5 827.0 L329.5 828.4 L340.5 827.0 L352.5 826.0 L364.5 825.6 L376.5 824.6 L388.5 822.5 L400.5 818.0 L412.5 814.0 L424.5 830.6 L436.5 828.0 L448.5 828.0 L459.5 833.6 L471.5 828.6 L483.5 816.6 L495.5 817.0 L507.5 816.0 L519.5 817.0 L531.5 815.4 L543.5 811.0 L555.5 814.6 L566.5 818.0 L578.5 812.6 L590.5 806.0 L602.5 816.4 L614.5 821.6 L626.5 831.4 L638.5 832.6 L650.5 831.4 L662.5 818.0 L674.5 826.2 L685.5 817.0 L697.5 818.4 L709.5 822.0 L721.5 822.4 L733.5 806.0 L745.5 809.6 L757.5 801.6 L769.5 798.6 L781.5 795.6 L792.5 799.4 L804.5 810.0 L816.5 815.0 L828.5 813.6 L840.5 825.0 L852.5 827.0 L864.5 816.0 L876.5 811.4 L888.5 809.6 L900.5 813.4 L911.5 820.0 L923.5 812.6 L935.5 811.6 L947.5 815.6 L959.5 819.0 L971.5 824.0 L983.5 829.6 L995.5 827.6 L1007.5 822.0 L1018.5 825.4 L1030.5 821.0 L1042.5 826.0 L1054.5 831.0 L1066.5 817.0 L1078.5 813.0 L1090.5 820.0 L1102.5 816.0 L1114.5 813.4 L1126.5 815.0 L1137.5 820.0 L1149.5 820.4 L1161.5 818.0 L1173.5 821.4 L1185.5 817.0 L1197.5 816.8 L1209.5 824.0 L1221.5 817.2 L1233.5 823.8 L1244.5 818.0 L1256.5 831.3 L1268.5 832.6 L1280.5 837.0 L1292.5 827.6 L1304.5 825.0 L1316.5 823.0 L1328.5 823.6 L1340.5 814.4 L1352.5 804.0 L1363.5 803.0 L1375.5 802.0 L1387.5 798.2" fill="none" stroke="#f0780f" stroke-width="2" stroke-linejoin="round" stroke-linecap="round"/>
<text x="1459.2" y="69" textLength="36" lengthAdjust="spacingAndGlyphs" stroke="#15171c">172.00</text>
<text x="1459.2" y="104" textLength="36" lengthAdjust="spacingAndGlyphs" stroke="#15171c">168.00</text>
<text x="1459.2" y="139" textLength="36" lengthAdjust="spacingAndGlyphs" stroke="#15171c">164.00</text>
<text x="1459.2" y="174" textLength="36" lengthAdjust="spacingAndGlyphs" stroke="#15171c">160.00</text>
<text x="1459.2" y="209" textLength="36" lengthAdjust="spacingAndGlyphs" stroke="#15171c">156.00</text>
<text x="1459.2" y="244" textLength="36" lengthAdjust="spacingAndGlyphs" stroke="#15171c">152.00</text>
<text x="1459.2" y="279" textLength="36" lengthAdjust="spacingAndGlyphs" stroke="#15171c">148.00</text>
<text x="1459.2" y="314" textLength="36" lengthAdjust="spacingAndGlyphs" stroke="#15171c">144.00</text>
<text x="1459.2" y="349" textLength="36" lengthAdjust="spacingAndGlyphs" stroke="#15171c">140.00</text>
<text x="1459.2" y="384" textLength="36" lengthAdjust="spacingAndGlyphs" stroke="#15171c">136.00</text>
<text x="1459.2" y="419" textLength="36" lengthAdjust="spacingAndGlyphs" stroke="#15171c">132.00</text>
<text x="1459.2" y="454" textLength="36" lengthAdjust="spacingAndGlyphs" stroke="#15171c">128.00</text>
<text x="1459.2" y="489" textLength="36" lengthAdjust="spacingAndGlyphs" stroke="#15171c">124.00</text>
<text x="1459.2" y="524" textLength="36" lengthAdjust="spacingAndGlyphs" stroke="#15171c">120.00</text>
<text x="1459.2" y="560" textLength="36" lengthAdjust="spacingAndGlyphs" stroke="#15171c">116.00</text>
<text x="1459.2" y="595" textLength="36" lengthAdjust="spacingAndGlyphs" stroke="#15171c">112.00</text>
<text x="1459.2" y="630" textLength="36" lengthAdjust="spacingAndGlyphs" stroke="#15171c">108.00</text>
<rect x="1452" y="57" width="50" height="4.6" fill="#ffffff"/>
<rect x="1454.2" y="30.8" width="46" height="26.4" rx="4" ry="4" fill="#ffffff" stroke="#efefef" stroke-width="1.5"/>
<text x="1463.5" y="49" textLength="21" lengthAdjust="spacingAndGlyphs" stroke="#15171c">USD</text>
<path d="M1451 118 h47 a2 2 0 0 1 2 2 v13 a2 2 0 0 1 -2 2 h-47 z" fill="#f23645"/>
<text x="1459.2" y="130.7" textLength="36" lengthAdjust="spacingAndGlyphs" fill="#ffffff" stroke="#ffffff" class="w">165.00</text>
<path d="M1451 140 h47 a2 2 0 0 1 2 2 v13 a2 2 0 0 1 -2 2 h-47 z" fill="#f23645"/>
<text x="1459.2" y="152.7" textLength="36" lengthAdjust="spacingAndGlyphs" fill="#ffffff" stroke="#ffffff" class="w">162.50</text>
<path d="M1451 245 h47 a2 2 0 0 1 2 2 v13 a2 2 0 0 1 -2 2 h-47 z" fill="#f23645"/>
<text x="1459.2" y="257.7" textLength="36" lengthAdjust="spacingAndGlyphs" fill="#ffffff" stroke="#ffffff" class="w">150.50</text>
<path d="M1451 547 h47 a2 2 0 0 1 2 2 v13 a2 2 0 0 1 -2 2 h-47 z" fill="#f23645"/>
<text x="1459.2" y="559.7" textLength="36" lengthAdjust="spacingAndGlyphs" fill="#ffffff" stroke="#ffffff" class="w">116.00</text>
<text x="1459.2" y="675" textLength="23" lengthAdjust="spacingAndGlyphs" stroke="#15171c">5.00</text>
<text x="1459.2" y="708" textLength="36" lengthAdjust="spacingAndGlyphs" stroke="#15171c">0.0000</text>
<text x="1459.2" y="740" textLength="29.5" lengthAdjust="spacingAndGlyphs" stroke="#15171c">−5.00</text>
<text x="1459.2" y="792" textLength="29.5" lengthAdjust="spacingAndGlyphs" stroke="#15171c">75.00</text>
<text x="1459.2" y="824" textLength="29.5" lengthAdjust="spacingAndGlyphs" stroke="#15171c">50.00</text>
<text x="1459.2" y="855" textLength="29.5" lengthAdjust="spacingAndGlyphs" stroke="#15171c">25.00</text>
<text x="81.2" y="881" textLength="20.5" lengthAdjust="spacingAndGlyphs" stroke="#15171c">Nov</text>
<text x="307.2" y="881" textLength="20.5" lengthAdjust="spacingAndGlyphs" stroke="#15171c">Dec</text>
<text x="806.8" y="881" textLength="19.5" lengthAdjust="spacingAndGlyphs" stroke="#15171c">Feb</text>
<text x="1032.8" y="881" textLength="19.5" lengthAdjust="spacingAndGlyphs" stroke="#15171c">Mar</text>
<text x="1295.6" y="881" textLength="17.8" lengthAdjust="spacingAndGlyphs" stroke="#15171c">Apr</text>
<text x="565.0" y="881" textLength="27" lengthAdjust="spacingAndGlyphs" stroke="#15171c" font-weight="bold">2026</text>
<text x="10.2" y="18.5" textLength="68.9" lengthAdjust="spacingAndGlyphs" stroke="#15171c">khertekpapir</text>
<text x="82.8" y="18.5" textLength="40.5" lengthAdjust="spacingAndGlyphs" stroke="#15171c">created</text>
<text x="127.2" y="18.5" textLength="23.8" lengthAdjust="spacingAndGlyphs" stroke="#15171c">with</text>
<text x="155.0" y="18.5" textLength="94.3" lengthAdjust="spacingAndGlyphs" stroke="#15171c">TradingView.com,</text>
<text x="253.8" y="18.5" textLength="18.7" lengthAdjust="spacingAndGlyphs" stroke="#15171c">Apr</text>
<text x="277.0" y="18.5" textLength="14.0" lengthAdjust="spacingAndGlyphs" stroke="#15171c">14,</text>
<text x="296.0" y="18.5" textLength="25.4" lengthAdjust="spacingAndGlyphs" stroke="#15171c">2026</text>
<text x="325.9" y="18.5" textLength="28.0" lengthAdjust="spacingAndGlyphs" stroke="#15171c">13:18</text>
<text x="358.4" y="18.5" textLength="34.3" lengthAdjust="spacingAndGlyphs" stroke="#15171c">UTC+2</text>
<text x="17.9" y="45.8" textLength="112.3" lengthAdjust="spacingAndGlyphs" stroke="#15171c">Arista Networks, Inc.</text>
<text x="135.2" y="45.8" textLength="3.4" lengthAdjust="spacingAndGlyphs" stroke="#15171c" font-weight="bold">·</text>
<text x="142.6" y="45.8" textLength="13.8" lengthAdjust="spacingAndGlyphs" stroke="#15171c">1D</text>
<text x="160" y="45.8" textLength="3.4" lengthAdjust="spacingAndGlyphs" stroke="#15171c" font-weight="bold">·</text>
<text x="168" y="45.8" textLength="26" lengthAdjust="spacingAndGlyphs" stroke="#15171c">NYSE</text>
<text x="201.6" y="45.8" textLength="8.6" lengthAdjust="spacingAndGlyphs" stroke="#15171c">O</text>
<text x="210.9" y="45.8" textLength="35" lengthAdjust="spacingAndGlyphs" fill="#089981" stroke="#089981">146.73</text>
<text x="252.8" y="45.8" textLength="8" lengthAdjust="spacingAndGlyphs" stroke="#15171c">H</text>
<text x="261.8" y="45.8" textLength="35" lengthAdjust="spacingAndGlyphs" fill="#089981" stroke="#089981">152.14</text>
<text x="304" y="45.8" textLength="6.3" lengthAdjust="spacingAndGlyphs" stroke="#15171c">L</text>
<text x="310.8" y="45.8" textLength="35" lengthAdjust="spacingAndGlyphs" fill="#089981" stroke="#089981">144.80</text>
<text x="353" y="45.8" textLength="7.5" lengthAdjust="spacingAndGlyphs" stroke="#15171c">C</text>
<text x="361.5" y="45.8" textLength="35" lengthAdjust="spacingAndGlyphs" fill="#089981" stroke="#089981">152.02</text>
<text x="404" y="45.8" textLength="78" lengthAdjust="spacingAndGlyphs" fill="#089981" stroke="#089981">+4.67 (+3.17%)</text>
<text x="17.5" y="63" textLength="22.2" lengthAdjust="spacingAndGlyphs" stroke="#15171c">SMA</text>
<text x="43.8" y="63" textLength="20.3" lengthAdjust="spacingAndGlyphs" stroke="#15171c">(50,</text>
<text x="67.8" y="63" textLength="31.8" lengthAdjust="spacingAndGlyphs" stroke="#15171c">close)</text>
<text x="107.5" y="63" textLength="35.5" lengthAdjust="spacingAndGlyphs" fill="#12a9ee" stroke="#12a9ee">134.50</text>
<text x="17.5" y="79.7" textLength="22.2" lengthAdjust="spacingAndGlyphs" stroke="#15171c">SMA</text>
<text x="43.8" y="79.7" textLength="26.4" lengthAdjust="spacingAndGlyphs" stroke="#15171c">(200,</text>
<text x="74.2" y="79.7" textLength="31.6" lengthAdjust="spacingAndGlyphs" stroke="#15171c">close)</text>
<text x="113.4" y="79.7" textLength="35.5" lengthAdjust="spacingAndGlyphs" fill="#17437a" stroke="#17437a">133.08</text>
<text x="17.6" y="680" textLength="30.8" lengthAdjust="spacingAndGlyphs" stroke="#15171c">MACD</text>
<text x="52.4" y="680" textLength="20.8" lengthAdjust="spacingAndGlyphs" stroke="#15171c">(12,</text>
<text x="77.0" y="680" textLength="16.6" lengthAdjust="spacingAndGlyphs" stroke="#15171c">26,</text>
<text x="97.3" y="680" textLength="31.4" lengthAdjust="spacingAndGlyphs" stroke="#15171c">close)</text>
<text x="136.4" y="680" textLength="23.3" lengthAdjust="spacingAndGlyphs" fill="#17437a" stroke="#17437a">3.00</text>
<text x="166.6" y="680" textLength="23.8" lengthAdjust="spacingAndGlyphs" fill="#17437a" stroke="#17437a">2.97</text>
<text x="197.5" y="680" textLength="42" lengthAdjust="spacingAndGlyphs" fill="#12a9ee" stroke="#12a9ee">−0.0305</text>
<text x="17.8" y="784" textLength="16.4" lengthAdjust="spacingAndGlyphs" stroke="#15171c">RSI</text>
<text x="38.9" y="784" textLength="19.3" lengthAdjust="spacingAndGlyphs" stroke="#15171c">(14,</text>
<text x="62.8" y="784" textLength="31.0" lengthAdjust="spacingAndGlyphs" stroke="#15171c">close)</text>
<text x="101.8" y="784" textLength="29.5" lengthAdjust="spacingAndGlyphs" fill="#f57c1f" stroke="#f57c1f">66.19</text>
<g fill="#131722">
<path d="M11.9 913.1 H24 V927.6 H17.8 V918.9 H11.9 Z"/>
<circle cx="29.3" cy="916" r="2.9"/>
<path d="M34.1 913.1 H41.7 L35.9 927.6 H28.8 Z"/>
</g>
<text x="49.3" y="927.6" textLength="120.5" lengthAdjust="spacingAndGlyphs" fill="#131722" stroke="#131722" font-weight="bold" font-size="20">TradingView</text>
</svg>
</body></html>
